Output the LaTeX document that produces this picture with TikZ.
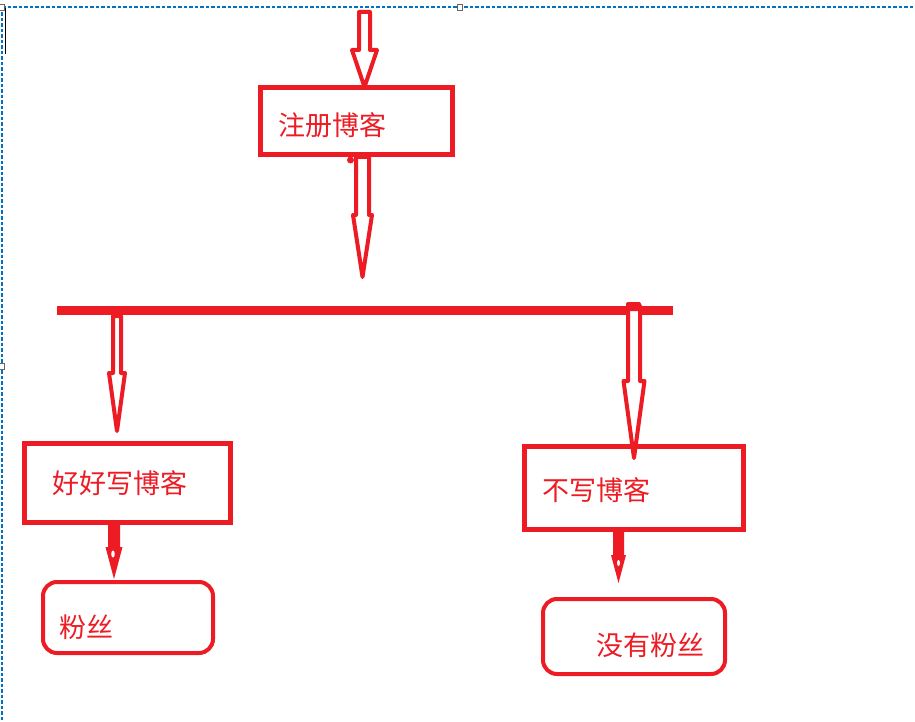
\documentclass[tikz,border=0pt]{standalone}
\usepackage{fontspec}
\newfontfamily\cjk{Noto Sans CJK SC}
\definecolor{pred}{RGB}{237,28,36}
\definecolor{selblue}{RGB}{0,114,198}
\tikzset{
  redbox/.style={draw=pred, line width=5pt, rectangle, inner sep=0pt},
  roundbox/.style={draw=pred, line width=4pt, rectangle, rounded corners=14pt, inner sep=0pt},
  label/.style={anchor=west, inner sep=0pt, text=pred, font=\cjk\fontsize{27}{30}\selectfont},
  handle/.style={draw=black!60, fill=white, line width=0.8pt, minimum width=5pt, minimum height=6pt, inner sep=0pt, rectangle},
  selline/.style={selblue, line width=1.3pt, dash pattern=on 3.5pt off 2pt},
  pics/harrow/.style n args={4}{code={
    \draw[pred, line width=4pt, line join=round, fill=white]
      (-#1,0) -- (#1,0) -- (#1,#3) -- (#2,#3) -- (0,#4) -- (-#2,#3) -- (-#1,#3) -- cycle;}},
  pics/farrow/.style n args={4}{code={
    \fill[pred]
      (-#1,0) -- (#1,0) -- (#1,#3) -- (#2,#3) -- (0,#4) -- (-#2,#3) -- (-#1,#3) -- cycle;}}
}
\begin{document}
\begin{tikzpicture}[x=1pt,y=-1pt]
\useasboundingbox (0,0) rectangle (915,722);
% selection frame
\coordinate (fTL) at (2,7);
\coordinate (fTR) at (915,7);
\coordinate (fBL) at (2,722);
\draw[selline] (fTL) -- (fTR);
\draw[selline] (fTL) -- (fBL);
\draw[black, line width=1pt] (5.5,8) -- (5.5,54);
\node[handle] (h1) at (2,7) {};
\node[handle] (h2) at (460,7) {};
\node[handle] (h3) at (2,366) {};

% boxes
\node[redbox, minimum width=192pt, minimum height=67pt] (reg) at (356.5,121) {};
\node[redbox, minimum width=206pt, minimum height=79pt] (good) at (127.5,483) {};
\node[redbox, minimum width=219pt, minimum height=83pt] (nowrite) at (634,488) {};
\node[roundbox, minimum width=170pt, minimum height=71pt] (fans) at (128,617.5) {};
\node[roundbox, minimum width=182pt, minimum height=75pt] (nofans) at (634,636.5) {};

% labels
\node[label] (t1) at (278,125) {注册博客};
\node[label] (t2) at (52,483) {好好写博客};
\node[label] (t3) at (542,490.5) {不写博客};
\node[label] (t4) at (59,627) {粉丝};
\node[label] (t5) at (596,645) {没有粉丝};

% bar
\coordinate (barL) at (57,310.5);
\coordinate (barR) at (673,310.5);
\draw[pred, line width=9pt] (barL) -- (barR);

% hollow arrows
\coordinate (a1) at (364.5,12);
\coordinate (a2) at (362.5,157);
\coordinate (a3) at (117,316);
\coordinate (a4) at (634,306);
\pic at (a1) {harrow={5.5}{12.5}{38}{75}};
\pic at (a2) {harrow={6.5}{9.5}{58}{120}};
\pic at (a3) {harrow={4}{8}{57}{115}};
\pic at (a4) {harrow={6}{10.5}{75}{152}};
\fill[pred, rounded corners=2pt] (626,302) rectangle (641,311);
\fill[pred] (350.5,160) circle (3.5pt);

% filled small arrows
\coordinate (a5) at (good.south -| 114,0);
\coordinate (a6) at (nowrite.south -| 618.5,0);
\pic at (a5) {farrow={6}{8.5}{22}{54}};
\pic at (a6) {farrow={5.5}{7.5}{23}{51}};
\fill[white] (113,554) ellipse (1.8pt and 3.5pt);
\fill[white] (618.5,563) ellipse (1.5pt and 3pt);
\end{tikzpicture}
\end{document}
